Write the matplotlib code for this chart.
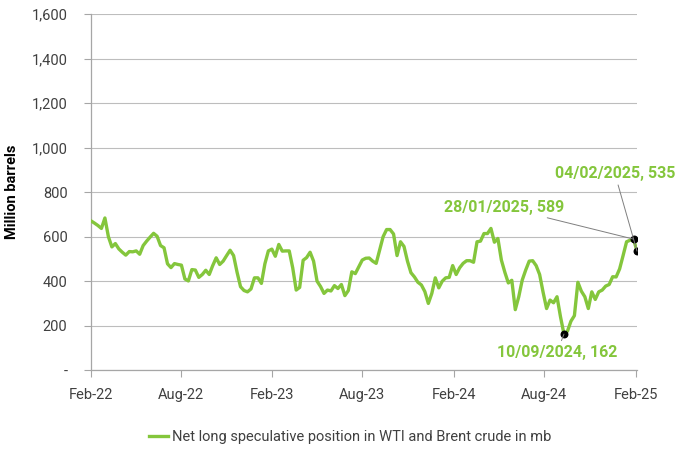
import numpy as np
import pandas as pd
import matplotlib
matplotlib.use("Agg")
import matplotlib.pyplot as plt
import matplotlib.dates as mdates
from matplotlib.ticker import FuncFormatter

plt.rcParams.update({"font.family": ["Roboto", "DejaVu Sans"], "font.size": 10})

GREEN = "#84C63C"
GRID = "#BDBDBD"
AXIS = "#A6A6A6"

# weekly COT positions, Tuesdays from 01/02/2022 to 04/02/2025 (mb)
dates = pd.date_range("2022-02-01", "2025-02-04", freq="7D")
net_long = [
    671, 661, 650, 637, 684, 600, 554, 569, 545, 530,
    517, 533, 532, 536, 521, 560, 580, 598, 615, 602,
    560, 550, 478, 461, 479, 475, 472, 410, 401, 452,
    450, 417, 430, 449, 430, 470, 505, 475, 490, 515,
    539, 515, 440, 375, 358, 352, 365, 415, 415, 390,
    478, 536, 544, 512, 565, 535, 536, 536, 460, 360,
    372, 494, 506, 530, 490, 400, 376, 345, 360, 356,
    380, 367, 385, 335, 358, 442, 434, 465, 495, 503,
    504, 490, 480, 540, 600, 632, 632, 612, 515, 577,
    556, 490, 438, 419, 395, 383, 353, 300, 345, 415,
    370, 400, 415, 417, 470, 430, 460, 480, 492, 492,
    485, 577, 580, 614, 614, 637, 575, 592, 495, 440,
    392, 404, 272, 330, 405, 450, 490, 492, 470, 430,
    350, 277, 315, 303, 330, 240, 162, 175, 220, 245,
    395, 355, 330, 277, 352, 318, 352, 360, 378, 385,
    420, 419, 455, 515, 577, 584, 589, 535,
]
series_label = "Net long speculative position in WTI and Brent crude in mb"

# labelled points: (date, label offset in points)
callouts = [
    ("2024-09-10", (-5, -13)),
    ("2025-01-28", (-93, 23)),
    ("2025-02-04", (-16, 56)),
]

s = pd.Series(net_long, index=dates)

fig = plt.figure(figsize=(7, 4.57), dpi=100)
ax = fig.add_axes([0.13, 0.19, 0.78, 0.779])

ax.plot(s.index, s.values, color=GREEN, lw=2.4, label=series_label, zorder=3)

for d, off in callouts:
    d = pd.Timestamp(d)
    v = s[d]
    ax.scatter([d], [v], color="black", s=22, zorder=5)
    ax.annotate(f"{d:%d/%m/%Y}, {v}", xy=(d, v), xytext=off,
                textcoords="offset points", ha="center", va="center",
                color=GREEN, fontsize=11.5, fontweight="bold",
                arrowprops=dict(arrowstyle="-", color="#7F7F7F", lw=0.7,
                                shrinkA=1, shrinkB=0),
                annotation_clip=False, zorder=6)

ax.set_xlim(dates[0], dates[-1])
ax.set_ylim(0, 1600)
ax.set_yticks(np.arange(0, 1601, 200))
ax.yaxis.set_major_formatter(FuncFormatter(lambda v, p: "-" if v == 0 else f"{v:,.0f}"))
ax.xaxis.set_major_locator(mdates.MonthLocator(bymonth=[2, 8], bymonthday=1))
ax.xaxis.set_major_formatter(mdates.DateFormatter("%b-%y"))

ax.grid(axis="y", color=GRID, lw=0.8)
ax.set_axisbelow(True)
for side in ("top", "right"):
    ax.spines[side].set_visible(False)
for side in ("left", "bottom"):
    ax.spines[side].set_color(AXIS)
    ax.spines[side].set_linewidth(0.9)
ax.tick_params(axis="both", colors=AXIS, length=5, width=0.8, labelcolor="#404040",
               labelsize=10.5)
ax.tick_params(axis="x", pad=8)
ax.tick_params(axis="y", pad=12)
ax.set_ylabel("Million barrels", fontweight="bold", fontsize=10.5, labelpad=9)

fig.legend(loc="center", bbox_to_anchor=(0.5, 0.044), frameon=False,
           fontsize=10.5, handlelength=1.3, handletextpad=0.3,
           labelcolor="#404040")

fig.savefig("out.png", dpi=100)
